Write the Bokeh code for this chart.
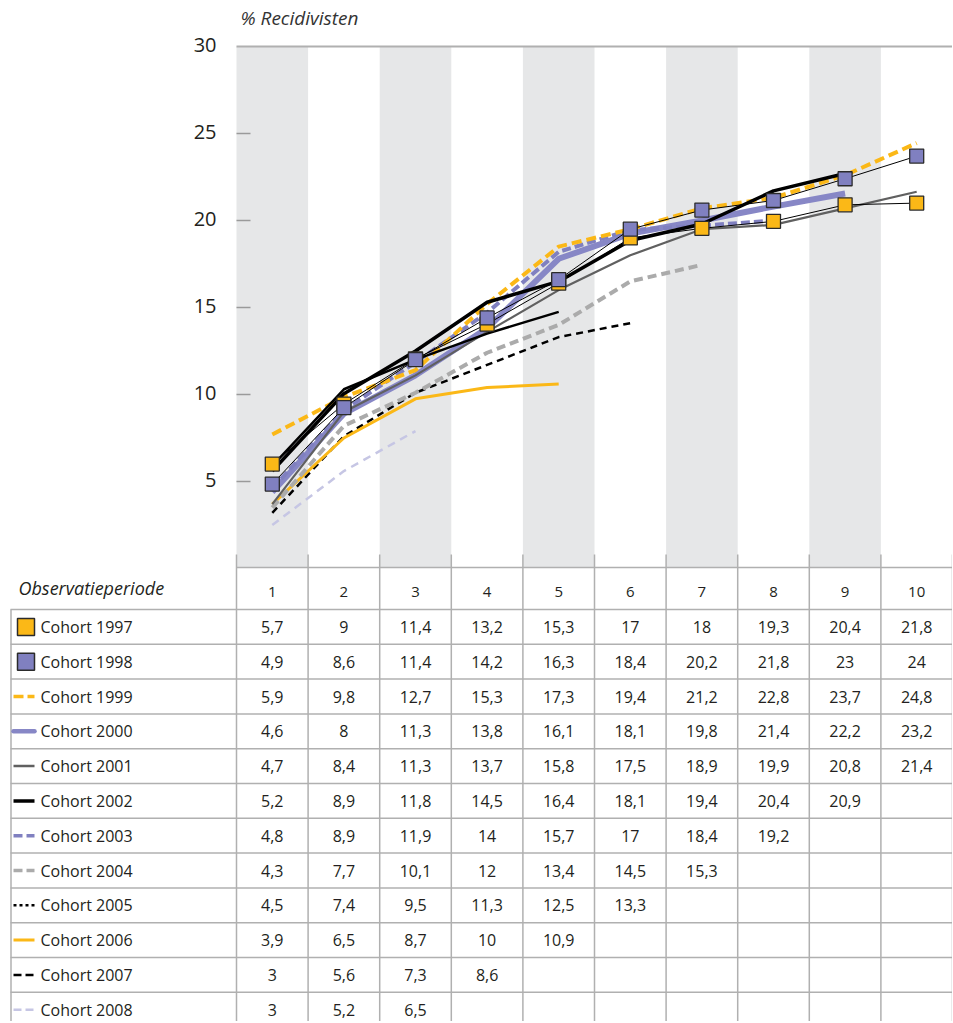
from bokeh.plotting import figure
from bokeh.models import Range1d
from bokeh.core.properties import value
from bokeh.embed import file_html
from bokeh.resources import INLINE

FONT = "Open Sans"

periods = [1, 2, 3, 4, 5, 6, 7, 8, 9, 10]
y_ticks = [5, 10, 15, 20, 25, 30]
cohorts = ["Cohort 1997", "Cohort 1998", "Cohort 1999", "Cohort 2000",
           "Cohort 2001", "Cohort 2002", "Cohort 2003", "Cohort 2004",
           "Cohort 2005", "Cohort 2006", "Cohort 2007", "Cohort 2008"]

# values of the plotted lines
plot_1997 = [6.0, 9.45, 12.05, 14.05, 16.4, 19.0, 19.55, 19.95, 20.9, 21.0]
plot_1998 = [4.85, 9.25, 12.0, 14.4, 16.6, 19.5, 20.6, 21.15, 22.4, 23.7]
plot_1999 = [7.7, 9.85, 11.4, 15.2, 18.5, 19.5, 20.7, 21.3, 22.6, 24.45]
plot_2000 = [4.4, 8.9, 11.1, 13.8, 17.8, 19.25, 20.0, 20.8, 21.55]
plot_2001 = [3.7, 9.0, 11.1, 13.6, 16.0, 18.0, 19.5, 19.75, 20.7, 21.65]
plot_2002 = [5.6, 10.05, 12.5, 15.3, 16.5, 18.85, 19.8, 21.7, 22.7]
plot_2003 = [4.6, 9.1, 11.85, 14.7, 18.2, 19.45, 19.7, 20.0]
plot_2004 = [3.5, 8.2, 10.1, 12.4, 14.0, 16.5, 17.45]
plot_2005 = [5.9, 10.3, 12.0, 13.5, 14.75]
plot_2006 = [3.7, 7.5, 9.75, 10.4, 10.6]
plot_2007 = [3.2, 7.6, 10.1, 11.7, 13.3, 14.1]
plot_2008 = [2.5, 5.6, 7.9]

# values of the data table
tab_1997 = [5.7, 9, 11.4, 13.2, 15.3, 17, 18, 19.3, 20.4, 21.8]
tab_1998 = [4.9, 8.6, 11.4, 14.2, 16.3, 18.4, 20.2, 21.8, 23, 24]
tab_1999 = [5.9, 9.8, 12.7, 15.3, 17.3, 19.4, 21.2, 22.8, 23.7, 24.8]
tab_2000 = [4.6, 8, 11.3, 13.8, 16.1, 18.1, 19.8, 21.4, 22.2, 23.2]
tab_2001 = [4.7, 8.4, 11.3, 13.7, 15.8, 17.5, 18.9, 19.9, 20.8, 21.4]
tab_2002 = [5.2, 8.9, 11.8, 14.5, 16.4, 18.1, 19.4, 20.4, 20.9]
tab_2003 = [4.8, 8.9, 11.9, 14, 15.7, 17, 18.4, 19.2]
tab_2004 = [4.3, 7.7, 10.1, 12, 13.4, 14.5, 15.3]
tab_2005 = [4.5, 7.4, 9.5, 11.3, 12.5, 13.3]
tab_2006 = [3.9, 6.5, 8.7, 10, 10.9]
tab_2007 = [3, 5.6, 7.3, 8.6]
tab_2008 = [3, 5.2, 6.5]

ORANGE = "#FBB817"
PURPLE = "#8080C0"
PURPLE_T = "#8787C6"
LAVENDER = "#C6C6E4"
GREY_D = "#ABABAB"
GREY_S = "#606060"
BAND = "#E6E7E8"
RULE = "#B0B0B0"
TXT = "#231F20"

styles = {
    "Cohort 1999": dict(color=ORANGE, width=4, dash="10 5", ldash="10 4", lw=3.5),
    "Cohort 2000": dict(color=PURPLE_T, width=6, dash="solid", ldash="solid", lw=4.5),
    "Cohort 2001": dict(color=GREY_S, width=2.2, dash="solid", ldash="solid", lw=2.5),
    "Cohort 2002": dict(color="#000000", width=3.5, dash="solid", ldash="solid", lw=3.5),
    "Cohort 2003": dict(color=PURPLE, width=4, dash="9 4", ldash="9 4", lw=3.5),
    "Cohort 2004": dict(color=GREY_D, width=4, dash="9 5", ldash="9 4", lw=3.5),
    "Cohort 2005": dict(color="#000000", width=2.5, dash="solid", ldash="3 3", lw=2.5),
    "Cohort 2006": dict(color=ORANGE, width=3, dash="solid", ldash="solid", lw=3),
    "Cohort 2007": dict(color="#000000", width=2.5, dash="7 5", ldash="8 4", lw=2.5),
    "Cohort 2008": dict(color=LAVENDER, width=2.5, dash="8 6", ldash="8 4", lw=2.5),
}

plot_vals = dict(zip(cohorts, [plot_1997, plot_1998, plot_1999, plot_2000, plot_2001,
                               plot_2002, plot_2003, plot_2004, plot_2005, plot_2006,
                               plot_2007, plot_2008]))
tab_vals = [tab_1997, tab_1998, tab_1999, tab_2000, tab_2001, tab_2002, tab_2003,
            tab_2004, tab_2005, tab_2006, tab_2007, tab_2008]

# ---- layout helpers (pixel placement of the two scales) ----
PXX = 71.6      # px per observation period
PYC = 17.4      # px per percent point
PYT = 34.8      # px per table row


def xd(px):
    return 0.5 + (px - 236) / PXX


def yc(px):
    return 30 - (px - 46) / PYC


def yt(px):
    return -0.5 + (px - 609) / PYT


W, H = 952, 1021
p = figure(width=W, height=H, x_range=Range1d(xd(0), xd(W)), y_range=Range1d(yc(H), yc(0)),
           x_axis_location=None, y_axis_location=None, title=None,
           output_backend="svg", toolbar_location=None, min_border=0)
p.extra_y_ranges = {"tab": Range1d(yt(H), yt(0))}
p.outline_line_color = None
p.grid.visible = False

# ---------------- chart ----------------
odd = [x for x in periods if x % 2 == 1]
p.vbar(x=odd, width=1, top=30, bottom=yc(567), fill_color=BAND, line_color=None)
p.segment(x0=[0.5], y0=[30], x1=[10.5], y1=[30], line_color=RULE, line_width=2)

inner = [t for t in y_ticks if t < 30]
p.segment(x0=[0.5] * len(inner), y0=inner, x1=[xd(250)] * len(inner), y1=inner,
          line_color="#9A9A9A", line_width=1.5)
p.text(x=[xd(216)] * len(y_ticks), y=y_ticks, text=[str(t) for t in y_ticks],
       text_font=value(FONT), text_font_size="20px", text_color=TXT,
       text_align="right", text_baseline="middle", y_offset=-2)
p.text(x=[xd(240)], y=[yc(17)], text=["% Recidivisten"], text_font=value(FONT),
       text_font_style="italic", text_font_size="19px", text_color="#333333",
       text_align="left", text_baseline="middle")

# ---------------- table rules ----------------
NR = len(cohorts)
rows = list(range(NR))
p.segment(x0=[xd(10)] * NR, y0=[r - 0.5 for r in rows], x1=[10.5] * NR,
          y1=[r - 0.5 for r in rows], line_color=RULE, line_width=1.5, y_range_name="tab")
p.segment(x0=[0.5], y0=[yt(567)], x1=[10.5], y1=[yt(567)], line_color=RULE,
          line_width=1.5, y_range_name="tab")
vx = [c + 0.5 for c in range(0, 11)]
p.segment(x0=vx, y0=[yt(554)] * len(vx), x1=vx, y1=[NR] * len(vx), line_color=RULE,
          line_width=1.5, y_range_name="tab")
p.segment(x0=[xd(10.5)], y0=[-0.5], x1=[xd(10.5)], y1=[NR], line_color=RULE,
          line_width=1.5, y_range_name="tab")

# ---------------- chart lines ----------------
draw_order = ["Cohort 2008", "Cohort 2007", "Cohort 2006", "Cohort 2004", "Cohort 2000",
              "Cohort 2003", "Cohort 2001", "Cohort 1999", "Cohort 2005", "Cohort 2002"]
for name in draw_order:
    s = styles[name]
    v = plot_vals[name]
    p.line(periods[:len(v)], v, line_color=s["color"], line_width=s["width"],
           line_dash=s["dash"])

for name in ["Cohort 1997", "Cohort 1998"]:
    v = plot_vals[name]
    p.line(periods[:len(v)], v, line_color="#000000", line_width=1)
p.scatter(periods, plot_1997, marker="square", size=14, fill_color=ORANGE,
          line_color="#2B2B2B", line_width=1.3)
p.scatter(periods, plot_1998, marker="square", size=14, fill_color=PURPLE,
          line_color="#2B2B2B", line_width=1.3)

# ---------------- table content ----------------
p.text(x=[xd(18)], y=[yt(587)], text=["Observatieperiode"], text_font=value(FONT),
       text_font_style="italic", text_font_size="18px", text_color=TXT,
       text_align="left", text_baseline="middle", y_range_name="tab")
p.text(x=periods, y=[yt(591.5)] * len(periods), text=[str(q) for q in periods],
       text_font=value(FONT), text_font_size="15px", text_color=TXT,
       text_align="center", text_baseline="middle", y_range_name="tab")

p.text(x=[xd(40)] * NR, y=rows, text=cohorts, text_font=value(FONT),
       text_font_size="16px", text_color=TXT, text_align="left", text_baseline="middle",
       y_range_name="tab")
p.scatter(x=[xd(25.5)], y=[0], marker="square", size=17, fill_color=ORANGE,
          line_color="#2B2B2B", line_width=1.5, y_range_name="tab")
p.scatter(x=[xd(25.5)], y=[1], marker="square", size=17, fill_color=PURPLE,
          line_color="#2B2B2B", line_width=1.5, y_range_name="tab")
for r, name in enumerate(cohorts):
    if name in styles:
        s = styles[name]
        p.line(x=[xd(13), xd(34)], y=[r, r], line_color=s["color"], line_width=s["lw"],
               line_dash=s["ldash"], line_cap="round" if name == "Cohort 2000" else "butt",
               y_range_name="tab")

tx, ty, tt = [], [], []
for r, vals in enumerate(tab_vals):
    for i, v in enumerate(vals):
        tx.append(periods[i])
        ty.append(r)
        tt.append(f"{v:g}".replace(".", ","))
p.text(x=tx, y=ty, text=tt, text_font=value(FONT), text_font_size="16px",
       text_color=TXT, text_align="center", text_baseline="middle", y_range_name="tab")

open("out.html", "w").write(file_html(p, INLINE))
